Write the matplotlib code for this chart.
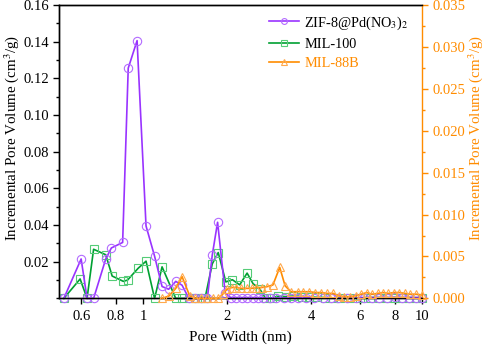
import numpy as np
import matplotlib
matplotlib.use("Agg")
import matplotlib.pyplot as plt
from matplotlib.ticker import MultipleLocator, FixedLocator, NullLocator, FixedFormatter

plt.rcParams['font.family'] = ['Liberation Serif', 'DejaVu Serif']
plt.rcParams['mathtext.fontset'] = 'stix'

# ---- data ----
zif_x = [0.52, 0.60, 0.63, 0.665, 0.735, 0.77, 0.845, 0.885, 0.952, 1.025,
         1.10, 1.17, 1.235, 1.31, 1.38, 1.46, 1.54, 1.62, 1.70, 1.77,
         1.85, 1.97, 2.06, 2.16, 2.26, 2.36, 2.47, 2.58, 2.70, 2.85,
         3.00, 3.20, 3.40, 3.60, 3.85, 4.10, 4.40, 4.70, 5.00, 5.40,
         5.80, 6.20, 6.60, 7.00, 7.50, 8.00, 8.50, 9.00, 9.50, 10.0]
zif_y = [0.0, 0.0215, 0.0, 0.0, 0.0215, 0.0275, 0.0305, 0.1255, 0.1405, 0.0395,
         0.023, 0.0065, 0.005, 0.0093, 0.0072, 0.0, 0.0, 0.0, 0.0, 0.0235,
         0.0415, 0.003, 0.0005, 0.0005, 0.0005, 0.0005, 0.0005, 0.0005, 0.0003, 0.0002,
         0.0002, 0.0002, 0.0003, 0.0003, 0.0003, 0.0003, 0.0002, 0.0002, 0.0001, 0.0001,
         0.0002, 0.0005, 0.0005, 0.0005, 0.0005, 0.0006, 0.0005, 0.0005, 0.0005, 0.0004]

mil100_x = [0.52, 0.595, 0.63, 0.665, 0.735, 0.775, 0.85, 0.88, 0.96, 1.025,
            1.10, 1.17, 1.31, 1.38, 1.46, 1.54, 1.62, 1.67, 1.77, 1.86,
            1.98, 2.09, 2.22, 2.36, 2.48, 2.62, 2.75, 2.90, 3.05, 3.25,
            3.45, 3.70, 3.95, 4.20, 4.50, 4.80, 5.10, 5.50, 6.00, 6.50,
            7.00, 7.50, 8.00, 8.50, 9.00, 9.50, 10.0]
mil100_y = [0.0, 0.0106, 0.0, 0.0268, 0.0238, 0.0122, 0.0093, 0.0100, 0.0164, 0.0203,
            0.0, 0.0172, 0.0, 0.0, 0.0, 0.0, 0.0, 0.0005, 0.0188, 0.0250,
            0.0090, 0.0102, 0.0074, 0.0138, 0.0080, 0.0052, 0.0, 0.0003, 0.0012, 0.0010,
            0.0013, 0.0010, 0.0008, 0.0006, 0.0005, 0.0002, 0.0, 0.0, 0.0003, 0.0005,
            0.0005, 0.0004, 0.0005, 0.0004, 0.0005, 0.0004, 0.0004]

mil88_x = [1.17, 1.24, 1.31, 1.38, 1.47, 1.54, 1.62, 1.70, 1.78, 1.86,
           1.93, 2.00, 2.08, 2.16, 2.25, 2.35, 2.45, 2.55, 2.66, 2.78,
           2.92, 3.09, 3.23, 3.39, 3.58, 3.75, 3.95, 4.15, 4.35, 4.57,
           4.80, 5.03, 5.27, 5.52, 5.78, 6.05, 6.33, 6.62, 6.93, 7.25,
           7.58, 7.93, 8.30, 8.68, 9.08, 9.50, 10.0]
mil88_y = [0.0, 0.0003, 0.0012, 0.0026, 0.0003, 0.0, 0.0, 0.0, 0.0, 0.0,
           0.0005, 0.0011, 0.0013, 0.0013, 0.0012, 0.0012, 0.0012, 0.0013, 0.0013, 0.0014,
           0.0016, 0.0037, 0.0015, 0.0008, 0.0008, 0.0008, 0.0008, 0.0007, 0.0007, 0.0006,
           0.0006, 0.0003, 0.0002, 0.0002, 0.0003, 0.0005, 0.0007, 0.0005, 0.0006, 0.0007,
           0.0006, 0.0007, 0.0007, 0.0006, 0.0005, 0.0005, 0.0004]

x_ticks = [0.6, 0.8, 1, 2, 4, 6, 8, 10]
x_ticklabels = ['0.6', '0.8', '1', '2', '4', '6', '8', '10']
left_ticks = [0.02, 0.04, 0.06, 0.08, 0.10, 0.12, 0.14, 0.16]

purple = '#9933FF'
green = '#00A032'
orange = '#FF8C00'

fig = plt.figure(figsize=(4.84, 3.45), dpi=100)
ax = fig.add_axes([0.122, 0.135, 0.750, 0.851])
ax2 = ax.twinx()

l2, = ax.plot(mil100_x, mil100_y, '-s', color=green, lw=1.2, ms=5.5,
              mfc='none', mec='#55CC77', mew=0.8, clip_on=False, zorder=3)
l1, = ax.plot(zif_x, zif_y, '-o', color=purple, lw=1.2, ms=6,
              mfc='none', mec='#B36BFF', mew=0.8, clip_on=False, zorder=4)
l3, = ax2.plot(mil88_x, mil88_y, '-^', color=orange, lw=1.2, ms=6,
               mfc='none', mec='#FFA94D', mew=0.8, clip_on=False, zorder=3)

ax.set_xscale('log')
ax.set_xlim(0.5, 10)
ax.xaxis.set_major_locator(FixedLocator(x_ticks))
ax.xaxis.set_major_formatter(FixedFormatter(x_ticklabels))
ax.xaxis.set_minor_locator(NullLocator())

ax.set_ylim(0, 0.16)
ax.set_yticks(left_ticks)
ax.set_yticklabels(['%.2f' % v for v in left_ticks])
ax.yaxis.set_minor_locator(MultipleLocator(0.01))

ax2.set_ylim(0, 0.035)
ax2.yaxis.set_major_locator(MultipleLocator(0.005))
ax2.yaxis.set_minor_locator(MultipleLocator(0.0025))
ax2.yaxis.set_major_formatter(matplotlib.ticker.FormatStrFormatter('%.3f'))

ax.tick_params(axis='both', which='major', direction='out', length=4, width=1,
               labelsize=10.5, colors='black')
ax.tick_params(axis='y', which='minor', direction='out', length=2.5, width=1)
ax.tick_params(axis='x', pad=4)
ax2.tick_params(axis='y', which='major', direction='out', length=4, width=1,
                labelsize=10.5, colors=orange)
ax2.tick_params(axis='y', which='minor', direction='out', length=2.5, width=1,
                colors=orange)

for sp in ['left', 'bottom', 'top']:
    ax.spines[sp].set_linewidth(1.0)
    ax2.spines[sp].set_linewidth(1.0)
ax2.spines['right'].set_color(orange)
ax2.spines['right'].set_linewidth(1.0)
ax.spines['right'].set_visible(False)

ax.set_xlabel('Pore Width (nm)', fontsize=11, labelpad=6)
ax.set_ylabel('Incremental Pore Volume (cm$^3$/g)', fontsize=10.8)
ax.yaxis.set_label_coords(-0.104, 0.547)
ax2.set_ylabel('Incremental Pore Volume (cm$^3$/g)', fontsize=10.8, color=orange)
ax2.yaxis.set_label_coords(1.122, 0.547)

leg = ax2.legend([l1, l2, l3], ['ZIF-8@Pd(NO$_3$)$_2$', 'MIL-100', 'MIL-88B'],
                 loc='upper left', bbox_to_anchor=(0.543, 1.012), frameon=False,
                 fontsize=10.3, handlelength=2.1, handletextpad=0.35,
                 markerscale=0.7, labelspacing=0.45)
leg.get_texts()[2].set_color(orange)

fig.savefig('out.png', dpi=100)
